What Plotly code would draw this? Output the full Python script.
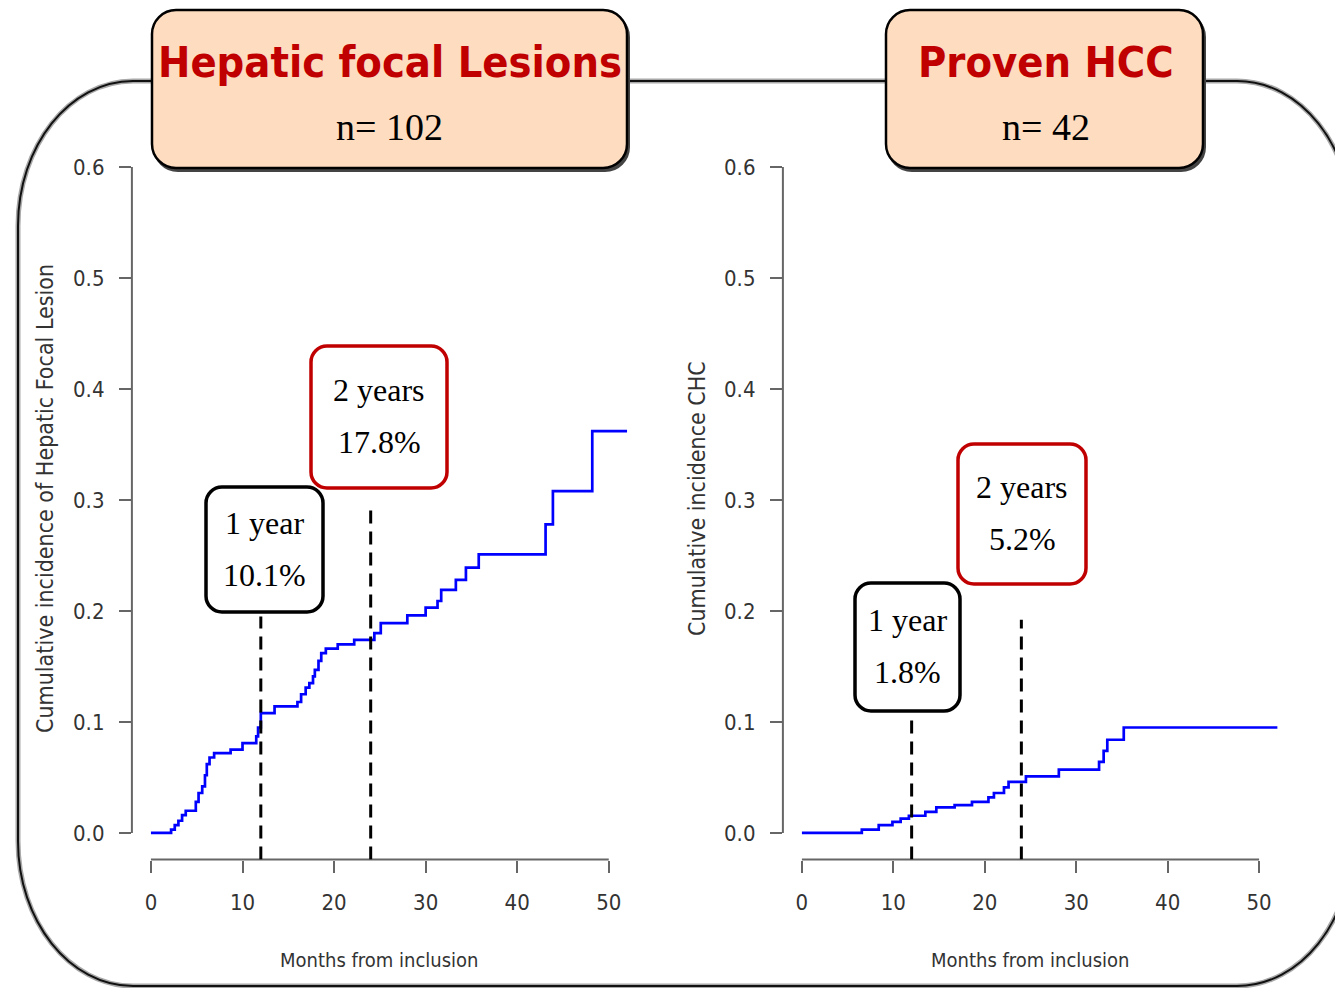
import plotly.graph_objects as go

# ---------------- data ----------------
hfl_months = [0, 2.2, 2.6, 3.0, 3.4, 3.8, 4.9, 5.2, 5.6, 5.9, 6.1, 6.4, 6.9, 8.7, 10.0,
              11.5, 11.7, 12.0, 13.5, 16.0, 16.4, 16.9, 17.3, 17.7, 17.9, 18.3, 18.6,
              19.1, 20.4, 22.2, 24.4, 25.1, 28.0, 30.0, 31.3, 31.7, 33.3, 34.4, 35.8,
              43.1, 43.9, 48.2, 52.0]
hfl_cuminc = [0.0, 0.003, 0.007, 0.011, 0.016, 0.020, 0.028, 0.036, 0.042, 0.052, 0.062,
              0.068, 0.072, 0.075, 0.081, 0.087, 0.095, 0.108, 0.114, 0.118, 0.125, 0.131,
              0.135, 0.141, 0.147, 0.155, 0.162, 0.166, 0.170, 0.174, 0.180, 0.189, 0.196,
              0.203, 0.209, 0.219, 0.228, 0.239, 0.251, 0.278, 0.308, 0.362, 0.362]

hcc_months = [0, 6.55, 8.4, 9.9, 10.8, 11.7, 13.5, 14.7, 16.7, 18.6, 20.4, 21.0, 22.1,
              22.6, 24.5, 28.1, 32.5, 33.0, 33.4, 35.2, 52.0]
hcc_cuminc = [0.0, 0.003, 0.007, 0.010, 0.013, 0.0155, 0.019, 0.023, 0.025, 0.028, 0.032,
              0.036, 0.041, 0.046, 0.051, 0.057, 0.064, 0.074, 0.084, 0.095, 0.095]

landmark_months = [12, 24]
landmark_labels = ["1 year", "2 years"]
hfl_landmark_pct = ["10.1%", "17.8%"]
hcc_landmark_pct = ["1.8%", "5.2%"]

x_ticks = [0, 10, 20, 30, 40, 50]
y_ticks = [0.0, 0.1, 0.2, 0.3, 0.4, 0.5, 0.6]
y_tick_text = ["0.0", "0.1", "0.2", "0.3", "0.4", "0.5", "0.6"]

panel_titles = ["Hepatic focal Lesions", "Proven HCC"]
panel_n = ["n= 102", "n= 42"]
y_titles = ["Cumulative incidence of Hepatic Focal Lesion", "Cumulative incidence CHC"]
x_title = "Months from inclusion"

# ---------------- layout helpers ----------------
W, H = 1335, 988
RED = "#C00000"
PEACH = "#FDDCBF"
SANS = "Liberation Sans Narrow, Arial Narrow, DejaVu Sans Condensed, Liberation Sans, Arial"
SERIF = "Liberation Serif, Times New Roman, serif"
AXIS_COL = "#666666"
TXT_COL = "#333333"


def px(x):
    return x / W


def py(y):
    return 1 - y / H


def rrect(x0, y0, x1, y1, rx, ry):
    k = 0.5523
    pts = []

    def P(x, y):
        return f"{px(x):.5f},{py(y):.5f}"
    pts.append(f"M{P(x0 + rx, y0)}")
    pts.append(f"L{P(x1 - rx, y0)}")
    pts.append(f"C{P(x1 - rx + k * rx, y0)} {P(x1, y0 + ry - k * ry)} {P(x1, y0 + ry)}")
    pts.append(f"L{P(x1, y1 - ry)}")
    pts.append(f"C{P(x1, y1 - ry + k * ry)} {P(x1 - rx + k * rx, y1)} {P(x1 - rx, y1)}")
    pts.append(f"L{P(x0 + rx, y1)}")
    pts.append(f"C{P(x0 + rx - k * rx, y1)} {P(x0, y1 - ry + k * ry)} {P(x0, y1 - ry)}")
    pts.append(f"L{P(x0, y0 + ry)}")
    pts.append(f"C{P(x0, y0 + ry - k * ry)} {P(x0 + rx - k * rx, y0)} {P(x0 + rx, y0)}")
    pts.append("Z")
    return " ".join(pts)


fig = go.Figure()

fig.add_trace(go.Scatter(x=hfl_months, y=hfl_cuminc, mode="lines", line_shape="hv",
                         line=dict(color="#0000FF", width=2.7), xaxis="x", yaxis="y",
                         showlegend=False, hoverinfo="skip"))
fig.add_trace(go.Scatter(x=hcc_months, y=hcc_cuminc, mode="lines", line_shape="hv",
                         line=dict(color="#0000FF", width=2.7), xaxis="x2", yaxis="y2",
                         showlegend=False, hoverinfo="skip"))

xr = [-2.08, 52.08]
yr = [-0.024, 0.624]
ydom = [py(859.6), py(140.4)]

common_x = dict(range=xr, tickvals=x_ticks, ticks="outside", ticklen=12, tickwidth=2,
                tickcolor=AXIS_COL, showgrid=False, zeroline=False, showline=False,
                tickfont=dict(family=SANS, size=22, color=TXT_COL), ticklabelstandoff=11,
                fixedrange=True)
common_y = dict(range=yr, tickvals=y_ticks, ticktext=y_tick_text, ticks="outside", ticklen=12,
                tickwidth=2, tickcolor=AXIS_COL, showgrid=False, zeroline=False,
                showline=False, tickfont=dict(family=SANS, size=22, color=TXT_COL),
                ticklabelstandoff=10, domain=ydom, fixedrange=True)

fig.update_layout(
    width=W, height=H, margin=dict(l=0, r=0, t=0, b=0),
    paper_bgcolor="white", plot_bgcolor="white", showlegend=False,
    xaxis=dict(domain=[px(131.9), px(627.8)], anchor="y", **common_x),
    yaxis=dict(anchor="x", **common_y),
    xaxis2=dict(domain=[px(782.9), px(1278.1)], anchor="y2", **common_x),
    yaxis2=dict(anchor="x2", **common_y),
)

shapes = []
# outer rounded frame
frame = rrect(18, 81, 1352, 986, 115, 145)
shapes.append(dict(type="path", path=frame, xref="paper", yref="paper",
                   line=dict(color="#A8A8A8", width=5), layer="below"))
shapes.append(dict(type="path", path=frame, xref="paper", yref="paper",
                   line=dict(color="#111111", width=2), layer="below"))

# axis lines (R style, from first to last tick)
for xa, ya in [("x", "y"), ("x2", "y2")]:
    shapes.append(dict(type="line", xref=xa, yref=f"{ya} domain", x0=x_ticks[0], x1=x_ticks[-1],
                       y0=0, y1=0, line=dict(color=AXIS_COL, width=2)))
    shapes.append(dict(type="line", xref=f"{xa} domain", yref=ya, x0=0, x1=0,
                       y0=y_ticks[0], y1=y_ticks[-1], line=dict(color=AXIS_COL, width=2)))

# dashed landmark lines
dash_tops = {("x", 0): 0.195, ("x", 1): 0.297, ("x2", 0): 0.104, ("x2", 1): 0.192}
for xa, ya in [("x", "y"), ("x2", "y2")]:
    for i, m in enumerate(landmark_months):
        shapes.append(dict(type="line", xref=xa, yref=ya, x0=m, x1=m, y0=yr[0],
                           y1=dash_tops[(xa, i)],
                           line=dict(color="black", width=3, dash="13px,8px")))

# title boxes
title_boxes = [(152, 10, 627, 168), (886, 10, 1203, 168)]
for (x0, y0, x1, y1) in title_boxes:
    shapes.append(dict(type="path", path=rrect(x0 + 2, y0 + 3, x1 + 2, y1 + 3, 24, 24),
                       xref="paper", yref="paper", fillcolor="#444444",
                       line=dict(color="#444444", width=2)))
    shapes.append(dict(type="path", path=rrect(x0, y0, x1, y1, 24, 24), xref="paper",
                       yref="paper", fillcolor=PEACH, line=dict(color="black", width=2.5)))

# landmark boxes
land_boxes = [
    [(206, 487, 323, 612, "black"), (311, 346, 447, 488, RED)],
    [(855, 583, 960, 711, "black"), (958, 444, 1086, 584, RED)],
]
for panel in land_boxes:
    for (x0, y0, x1, y1, col) in panel:
        shapes.append(dict(type="path", path=rrect(x0, y0, x1, y1, 16, 16), xref="paper",
                           yref="paper", fillcolor="white", line=dict(color=col, width=3.5)))

annotations = []
title_cx = [389.5, 1046]
for i in range(2):
    annotations.append(dict(text=f"<b>{panel_titles[i]}</b>", x=px(title_cx[i]), y=py(62),
                            xref="paper", yref="paper", showarrow=False, xanchor="center",
                            yanchor="middle", font=dict(family=SANS, size=43, color=RED)))
    annotations.append(dict(text=panel_n[i], x=px(title_cx[i]), y=py(127), xref="paper",
                            yref="paper", showarrow=False, xanchor="center", yanchor="middle",
                            font=dict(family=SERIF, size=38, color="black")))

pcts = [hfl_landmark_pct, hcc_landmark_pct]
for p, panel in enumerate(land_boxes):
    for j, (x0, y0, x1, y1, col) in enumerate(panel):
        cx = (x0 + x1) / 2
        cy = (y0 + y1) / 2
        annotations.append(dict(text=landmark_labels[j], x=px(cx), y=py(cy - 27), xref="paper",
                                yref="paper", showarrow=False, xanchor="center",
                                yanchor="middle", font=dict(family=SERIF, size=32, color="black")))
        annotations.append(dict(text=pcts[p][j], x=px(cx), y=py(cy + 25), xref="paper",
                                yref="paper", showarrow=False, xanchor="center",
                                yanchor="middle", font=dict(family=SERIF, size=32, color="black")))

# axis titles
ytitle_x = [45, 697]
xtitle_cx = [379, 1030]
for i in range(2):
    annotations.append(dict(text=y_titles[i], x=px(ytitle_x[i]), y=py(499), xref="paper",
                            yref="paper", showarrow=False, textangle=-90, xanchor="center",
                            yanchor="middle", font=dict(family=SANS, size=23, color=TXT_COL)))
    annotations.append(dict(text=x_title, x=px(xtitle_cx[i]), y=py(960), xref="paper",
                            yref="paper", showarrow=False, xanchor="center", yanchor="middle",
                            font=dict(family=SANS, size=20, color=TXT_COL)))

fig.update_layout(shapes=shapes, annotations=annotations)
fig.write_html("out.html")
